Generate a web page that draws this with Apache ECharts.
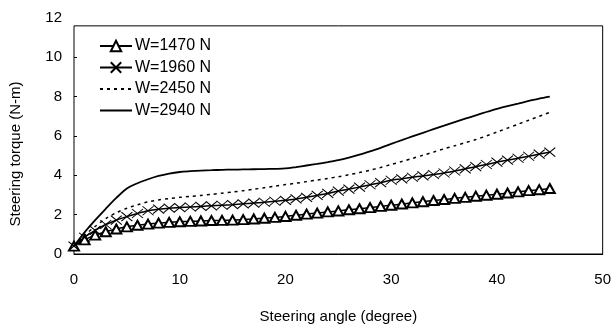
<!DOCTYPE html>
<html>
<head>
<meta charset="utf-8">
<script src="https://cdn.jsdelivr.net/npm/echarts@6/dist/echarts.min.js"></script>
<style>
html, body { margin: 0; padding: 0; background: #fff; }
#myChartMain { width: 614px; height: 331px; }
</style>
</head>
<body>
<div id="myChartMain"></div>
<script>
// 转向角 0..45 度, 每度一个点
var angles = [];
for (var i = 0; i <= 45; i++) { angles.push(i); }

var legendNames = [ 'W=1470 N', 'W=1960 N', 'W=2450 N', 'W=2940 N' ];

var w1470 = [ 0.4, 0.72, 0.96, 1.13, 1.27, 1.38, 1.46, 1.52, 1.57, 1.61,
	1.64, 1.66, 1.68, 1.70, 1.71, 1.72, 1.75, 1.78, 1.82, 1.86,
	1.91, 1.97, 2.03, 2.08, 2.14, 2.19, 2.25, 2.30, 2.36, 2.42,
	2.48, 2.54, 2.60, 2.66, 2.72, 2.77, 2.83, 2.88, 2.94, 2.99,
	3.04, 3.10, 3.16, 3.22, 3.27, 3.33 ];

var w1960 = [ 0.4, 0.85, 1.20, 1.50, 1.72, 1.90, 2.06, 2.20, 2.28, 2.33,
	2.36, 2.39, 2.42, 2.45, 2.48, 2.51, 2.55, 2.59, 2.63, 2.68,
	2.73, 2.80, 2.88, 2.98, 3.08, 3.20, 3.30, 3.40, 3.52, 3.63,
	3.75, 3.82, 3.90, 3.97, 4.04, 4.12, 4.22, 4.33, 4.44, 4.55,
	4.67, 4.77, 4.87, 4.97, 5.08, 5.18 ];

var w2450 = [ 0.4, 0.95, 1.40, 1.80, 2.10, 2.33, 2.50, 2.65, 2.75, 2.82,
	2.88, 2.93, 2.98, 3.03, 3.09, 3.15, 3.22, 3.29, 3.37, 3.45,
	3.53, 3.60, 3.68, 3.76, 3.84, 3.93, 4.03, 4.14, 4.26, 4.40,
	4.55, 4.70, 4.86, 5.02, 5.18, 5.35, 5.50, 5.66, 5.82, 6.00,
	6.20, 6.40, 6.60, 6.80, 7.00, 7.20 ];

var w2940 = [ 0.4, 1.10, 1.72, 2.30, 2.85, 3.33, 3.60, 3.80, 3.97, 4.09,
	4.17, 4.21, 4.24, 4.26, 4.28, 4.29, 4.30, 4.31, 4.32, 4.33,
	4.35, 4.42, 4.50, 4.58, 4.67, 4.77, 4.90, 5.05, 5.22, 5.40,
	5.60, 5.79, 5.98, 6.16, 6.35, 6.53, 6.71, 6.88, 7.05, 7.22,
	7.38, 7.52, 7.65, 7.78, 7.90, 8.00 ];

var yTicks = [ 2, 4, 6, 8, 10 ];

function pairs(ys) {
	var out = [];
	for (var k = 0; k < ys.length; k++) { out.push([ angles[k], ys[k] ]); }
	return out;
}

var FONT = 'Liberation Sans';
var myChart = echarts.init(document.getElementById('myChartMain'));
var option = {
	animation : false,
	backgroundColor : '#fff',
	textStyle : { fontFamily : FONT, color : '#000' },
	grid : { left : 74, right : 11, top : 18, bottom : 77 },
	legend : {
		orient : 'vertical',
		left : 94,
		top : 33,
		itemWidth : 32,
		itemHeight : 13,
		itemGap : 5.5,
		textStyle : { fontFamily : FONT, fontSize : 16, color : '#000', lineHeight : 13, padding : [ 0, 0, 0, -2 ] },
		data : [
			{ name : legendNames[0] },
			{ name : legendNames[1] },
			{ name : legendNames[2], itemStyle : { opacity : 0 } },
			{ name : legendNames[3], itemStyle : { opacity : 0 } }
		]
	},
	xAxis : {
		type : 'value',
		min : 0,
		max : 50,
		interval : 10,
		name : 'Steering angle (degree)',
		nameLocation : 'middle',
		nameGap : 55,
		nameTextStyle : { fontFamily : FONT, fontSize : 15, color : '#000' },
		axisLine : { show : true, lineStyle : { color : '#000', width : 1 } },
		axisTick : { show : false },
		axisLabel : { margin : 18, fontFamily : FONT, fontSize : 15, color : '#000' },
		splitLine : { show : false }
	},
	yAxis : {
		type : 'value',
		min : 0,
		max : 12,
		interval : 2,
		axisLine : { show : false },
		axisTick : { show : true, inside : true, length : 3, customValues : yTicks, lineStyle : { color : '#000' } },
		axisLabel : { margin : 12, fontFamily : FONT, fontSize : 15, color : '#000' },
		splitLine : { show : false }
	},
	series : [ {
		name : legendNames[0],
		type : 'line',
		data : pairs(w1470),
		smooth : 0.3,
		symbol : 'emptyTriangle',
		symbolSize : [ 10, 9 ],
		itemStyle : { color : '#000', borderWidth : 1 },
		lineStyle : { color : '#000', width : 1.5 },
		z : 2
	}, {
		name : legendNames[1],
		type : 'line',
		data : pairs(w1960),
		smooth : 0.3,
		symbol : 'path://M0,0L10,8M10,0L0,8',
		symbolSize : [ 11, 9 ],
		itemStyle : { color : 'rgba(0,0,0,0)', borderColor : '#000', borderWidth : 1 },
		lineStyle : { color : '#000', width : 1.5 },
		z : 3
	}, {
		name : legendNames[2],
		type : 'line',
		data : pairs(w2450),
		smooth : 0.3,
		showSymbol : false,
		symbol : 'none',
		itemStyle : { color : '#000' },
		lineStyle : { color : '#000', width : 1.5, type : [ 3, 4 ] },
		z : 4
	}, {
		name : legendNames[3],
		type : 'line',
		data : pairs(w2940),
		smooth : 0.3,
		showSymbol : false,
		symbol : 'none',
		itemStyle : { color : '#000' },
		lineStyle : { color : '#000', width : 1.8 },
		z : 5
	} ]
};
myChart.setOption(option);

// 外框和纵轴标题
var p0 = myChart.convertToPixel({ gridIndex : 0 }, [ 0, 0 ]);
var p1 = myChart.convertToPixel({ gridIndex : 0 }, [ 50, 11.6 ]);
myChart.setOption({
	graphic : [ {
		type : 'rect',
		shape : { x : p0[0], y : p1[1], width : p1[0] - p0[0], height : p0[1] - p1[1] },
		style : { fill : 'none', stroke : '#000', lineWidth : 1 },
		z : 1
	}, {
		type : 'text',
		x : 16,
		y : 154,
		rotation : Math.PI / 2,
		style : {
			text : 'Steering torque (N-m)',
			fontFamily : FONT,
			fontSize : 15,
			fill : '#000',
			align : 'center',
			verticalAlign : 'middle'
		}
	} ]
});
</script>
</body>
</html>
